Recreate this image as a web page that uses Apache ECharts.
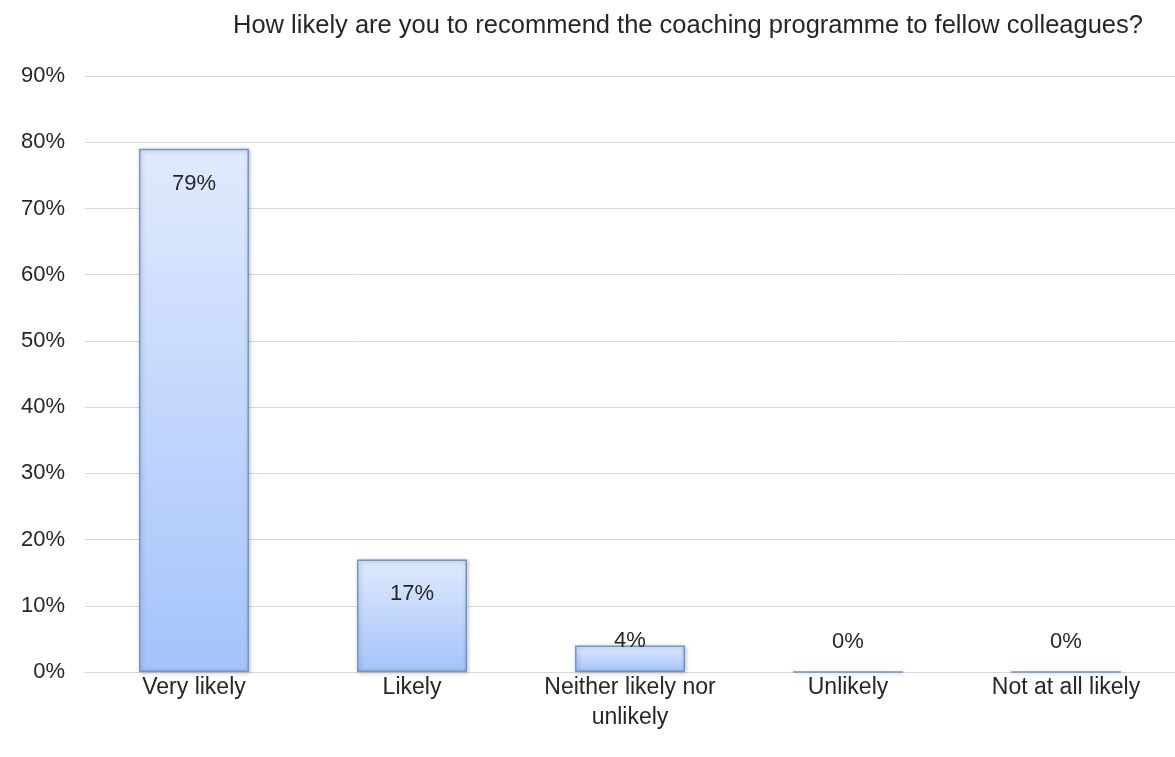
<!DOCTYPE html>
<html>
<head>
<meta charset="utf-8">
<script src="https://cdn.jsdelivr.net/npm/echarts@6/dist/echarts.min.js"></script>
<style>
  html, body { margin: 0; padding: 0; background: #ffffff; }
  #chart { width: 1175px; height: 757px; }
</style>
</head>
<body>
<div id="chart"></div>
<script>
// Survey answers and share of respondents (percent)
const categories = ['Very likely', 'Likely', 'Neither likely nor\nunlikely', 'Unlikely', 'Not at all likely'];
const shares = [79, 17, 4, 0, 0];
const yTicks = [0, 10, 20, 30, 40, 50, 60, 70, 80, 90];

const FONT = '"Liberation Sans", "DejaVu Sans", sans-serif';
const TEXT = '#262626';
const SIZE = 23;

function labelFor(v) {
  // Tall bars carry the value inside their top; short or empty bars show it above
  if (v >= 10) {
    return { position: 'insideTop', distance: 24 };
  }
  if (v > 0) {
    return { position: 'top', distance: -6 };
  }
  return { position: 'top', distance: 18 };
}

const chart = echarts.init(document.getElementById('chart'), null, { renderer: 'canvas' });

chart.setOption({
  animation: false,
  backgroundColor: '#ffffff',
  title: {
    text: 'How likely are you to recommend the coaching programme to fellow colleagues?',
    left: 683,
    top: 8,
    textAlign: 'center',
    textStyle: { fontFamily: FONT, fontSize: 25.5, fontWeight: 'normal', color: TEXT }
  },
  grid: { left: 85, right: 0, top: 76, bottom: 85, containLabel: false },
  xAxis: {
    type: 'category',
    data: categories,
    axisLine: { show: true, lineStyle: { color: '#d9d9d9', width: 1 } },
    axisTick: { show: false },
    axisLabel: {
      fontFamily: FONT, fontSize: SIZE, color: TEXT, margin: 1, lineHeight: 30, interval: 0
    }
  },
  yAxis: {
    type: 'value',
    min: yTicks[0],
    max: yTicks[yTicks.length - 1],
    interval: 10,
    axisLine: { show: false },
    axisTick: { show: false },
    splitLine: { lineStyle: { color: '#d9d9d9', width: 1 } },
    axisLabel: {
      fontFamily: FONT, fontSize: 22, color: TEXT, margin: 20,
      formatter: function (v) { return v + '%'; }
    }
  },
  series: [{
    type: 'bar',
    barWidth: 110,
    data: shares.map(function (v) {
      return { value: v, label: labelFor(v) };
    }),
    itemStyle: {
      color: new echarts.graphic.LinearGradient(0, 0, 0, 1, [
        { offset: 0, color: '#e0eafd' },
        { offset: 1, color: '#a5c3fa' }
      ]),
      borderColor: '#6f95cc',
      borderWidth: 1.5,
      shadowColor: 'rgba(0,0,0,0.25)',
      shadowBlur: 4,
      shadowOffsetX: 1,
      shadowOffsetY: 1
    },
    label: {
      show: true,
      fontFamily: FONT,
      fontSize: 22,
      color: TEXT,
      formatter: function (p) { return p.value + '%'; }
    }
  }]
});
</script>
</body>
</html>
